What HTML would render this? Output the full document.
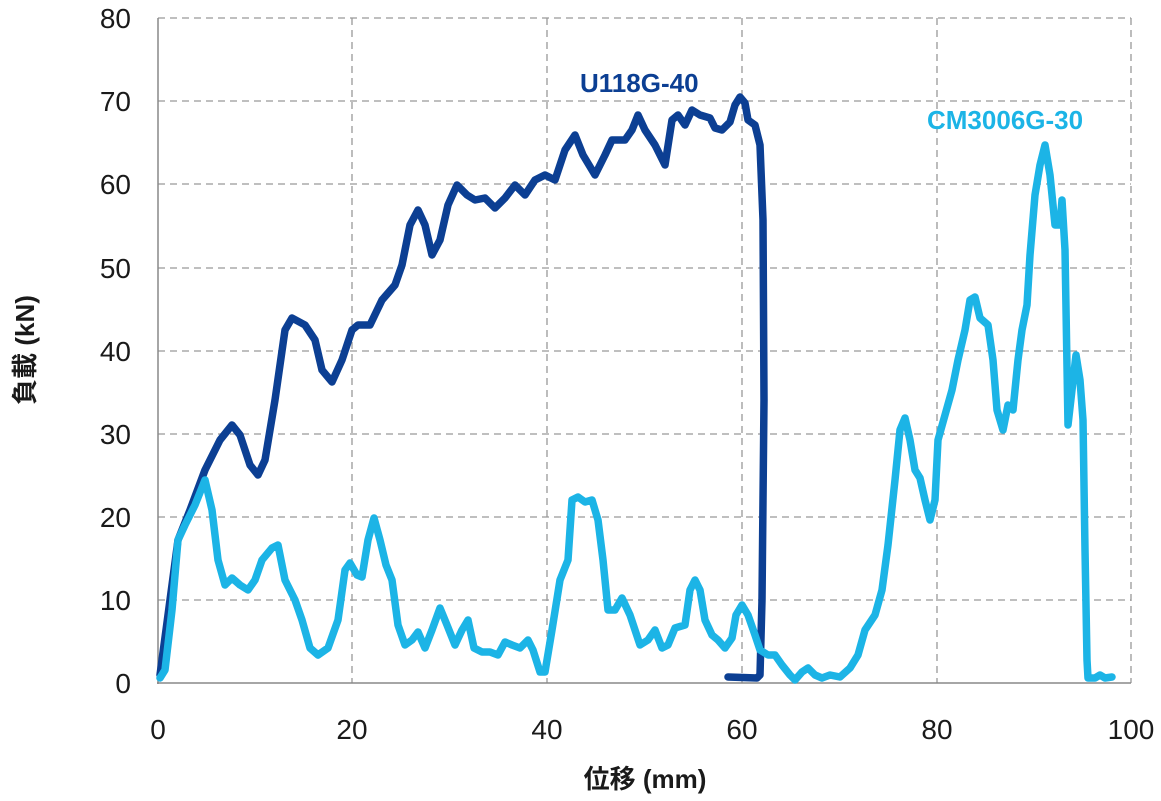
<!DOCTYPE html>
<html><head><meta charset="utf-8"><style>
html,body{margin:0;padding:0;background:#fff}
svg{display:block}
text{font-family:"Liberation Sans","Noto Sans CJK JP",sans-serif}
</style></head><body>
<svg width="1161" height="801" viewBox="0 0 1161 801" xmlns="http://www.w3.org/2000/svg">
<g stroke="#999" stroke-width="1.3" stroke-dasharray="7,5" fill="none">
<line x1="158" y1="18" x2="1131" y2="18"/>
<line x1="158" y1="101" x2="1131" y2="101"/>
<line x1="158" y1="184" x2="1131" y2="184"/>
<line x1="158" y1="268" x2="1131" y2="268"/>
<line x1="158" y1="351" x2="1131" y2="351"/>
<line x1="158" y1="434" x2="1131" y2="434"/>
<line x1="158" y1="517" x2="1131" y2="517"/>
<line x1="158" y1="600" x2="1131" y2="600"/>
<line x1="352" y1="18" x2="352" y2="683"/>
<line x1="547" y1="18" x2="547" y2="683"/>
<line x1="742" y1="18" x2="742" y2="683"/>
<line x1="937" y1="18" x2="937" y2="683"/>
<line x1="1131" y1="18" x2="1131" y2="683"/>
</g>
<g stroke="#888" stroke-width="1.5">
<line x1="158" y1="18" x2="158" y2="684"/>
<line x1="157" y1="683" x2="1131" y2="683"/>
</g>
<g font-size="28" fill="#1a1a1a" text-anchor="end">
<text x="131" y="28">80</text><text x="131" y="111">70</text><text x="131" y="194">60</text>
<text x="131" y="278">50</text><text x="131" y="361">40</text><text x="131" y="444">30</text>
<text x="131" y="527">20</text><text x="131" y="610">10</text><text x="131" y="693">0</text>
</g>
<g font-size="28" fill="#1a1a1a" text-anchor="middle">
<text x="158" y="739">0</text><text x="352" y="739">20</text><text x="547" y="739">40</text>
<text x="742" y="739">60</text><text x="937" y="739">80</text><text x="1131" y="739">100</text>
<text x="645" y="788" font-weight="600" font-size="26">位移 (mm)</text>
</g>
<text transform="translate(34,350) rotate(-90)" text-anchor="middle" font-size="26" font-weight="600" fill="#1a1a1a">負載 (kN)</text>
<polyline fill="none" stroke="#0c3f93" stroke-width="7.5" stroke-linejoin="round" stroke-linecap="round" points="160,675 170,600 178,540 190,510 205,470 220,440 232,425 240,435 250,465 258,475 265,460 275,400 285,330 292,318 305,325 315,340 322,370 332,382 342,360 352,330 358,325 370,325 382,300 395,285 402,265 410,225 418,210 425,225 432,255 440,240 448,205 457,185 467,195 475,200 485,198 495,208 505,198 515,185 525,195 535,180 545,175 555,180 565,150 575,135 583,155 595,175 605,155 612,140 625,140 632,130 638,115 645,130 655,145 665,165 672,120 678,115 685,125 692,110 700,115 710,118 715,128 722,130 730,122 735,105 740,97 745,103 748,120 755,125 760,145 763,220 764,400 762,600 760,675 757,678 728,677"/>
<polyline fill="none" stroke="#1cb4e6" stroke-width="7.5" stroke-linejoin="round" stroke-linecap="round" points="160,678 165,670 172,610 178,540 185,525 195,505 205,480 212,510 218,560 225,585 232,578 240,585 248,590 255,580 262,560 272,548 278,545 285,580 295,600 302,620 310,648 318,655 328,648 338,620 345,570 350,563 357,575 362,577 368,540 374,518 380,540 386,565 392,580 398,625 405,645 412,640 418,632 425,648 432,630 440,608 447,625 455,645 462,630 468,620 474,648 482,652 490,652 498,655 505,642 512,645 520,648 528,640 533,650 540,672 545,672 552,630 560,580 568,560 572,500 578,497 585,502 592,500 598,520 603,560 608,610 615,610 622,598 630,615 640,645 648,640 655,630 662,648 668,645 675,628 685,625 690,590 695,580 700,590 705,620 712,635 718,640 725,648 732,638 736,615 742,605 748,615 755,635 760,650 768,655 775,655 782,665 790,675 795,680 802,672 808,668 815,675 822,678 830,675 840,677 850,668 858,655 865,630 875,615 882,590 888,545 895,480 900,430 905,418 910,440 915,470 920,478 925,500 930,520 935,500 938,440 945,415 952,390 958,360 965,330 970,300 975,297 980,318 988,325 993,360 997,410 1003,430 1008,405 1013,410 1018,360 1022,330 1027,305 1030,255 1035,195 1040,165 1045,145 1050,175 1055,225 1060,225 1062,200 1065,250 1068,425 1072,390 1076,355 1080,380 1083,420 1085,550 1087,660 1088,678 1095,678 1100,675 1105,678 1112,677"/>
<text x="580" y="92" font-size="26" font-weight="600" fill="#0c3f93">U118G-40</text>
<text x="927" y="129" font-size="26" font-weight="600" fill="#1cb4e6">CM3006G-30</text>
</svg>
</body></html>
